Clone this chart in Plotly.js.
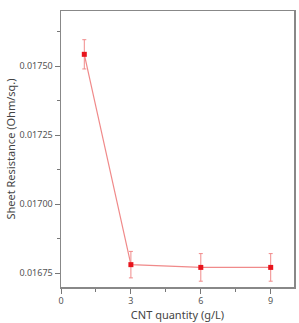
<!DOCTYPE html>
<html><head><meta charset="utf-8">
<script src="https://cdn.plot.ly/plotly-3.0.1.min.js"></script>
<style>html,body{margin:0;padding:0;background:#fff;}#chart{width:299px;height:323px;}</style>
</head><body><div id="chart"></div>
<script>
const cntQuantity = [1, 3, 6, 9];
const sheetResistance = [0.017543, 0.016781, 0.016771, 0.016771];
const errorValues = [0.000053, 0.000048, 0.00005, 0.00005];
const xTickVals = [0, 3, 6, 9];
const yTickVals = [0.01675, 0.017, 0.01725, 0.0175];
const yTickText = ['0.01675', '0.01700', '0.01725', '0.01750'];

const trace = {
  x: cntQuantity, y: sheetResistance, type: 'scatter', mode: 'lines+markers',
  line: {color: '#f08a8a', width: 1.2},
  marker: {color: '#e8141c', size: 5, symbol: 'square'},
  error_y: {type: 'data', array: errorValues, visible: true, color: '#f08a8a', thickness: 1, width: 2}
};
const font = {family: 'Noto Sans, Open Sans, sans-serif', size: 9, color: '#555'};
const layout = {
  width: 299, height: 323,
  margin: {l: 61, r: 5, t: 11, b: 36},
  paper_bgcolor: '#fff', plot_bgcolor: '#fff',
  showlegend: false, font: font,
  xaxis: {
    range: [0, 10], tickvals: xTickVals, ticks: 'outside', ticklen: 5, tickcolor: '#777',
    showline: true, linecolor: '#888', linewidth: 1.5, mirror: true, showgrid: false, zeroline: false,
    minor: {ticks: 'outside', ticklen: 3, tickcolor: '#777', dtick: 1.5, tick0: 0},
    title: {text: 'CNT quantity (g/L)', font: {size: 11, color: '#444'}, standoff: 5}
  },
  yaxis: {
    range: [0.0167, 0.0177], tickvals: yTickVals, ticktext: yTickText, ticks: 'outside', ticklen: 5, tickcolor: '#777',
    showline: true, linecolor: '#888', linewidth: 1.5, mirror: true, showgrid: false, zeroline: false,
    minor: {ticks: 'outside', ticklen: 3, tickcolor: '#777', dtick: 0.000125, tick0: 0.01675},
    title: {text: 'Sheet Resistance (Ohm/sq.)', font: {size: 11, color: '#444'}, standoff: 1}
  }
};
Plotly.newPlot('chart', [trace], layout, {displayModeBar: false, staticPlot: true});
</script></body></html>
